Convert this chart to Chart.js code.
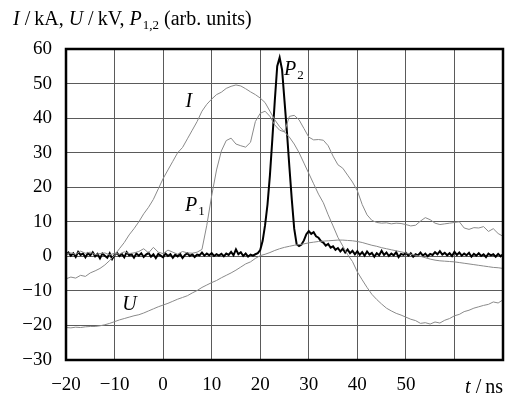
<!DOCTYPE html>
<html>
<head>
<meta charset="utf-8">
<script src="https://cdn.jsdelivr.net/npm/chart.js@4"></script>
<style>
  html, body { margin: 0; padding: 0; background: #fff; }
  #wrap { width: 517px; height: 401px; }
</style>
</head>
<body>
<div id="wrap"><canvas id="myChart" width="517" height="401"></canvas></div>
<script>
'use strict';

// time axis: thin traces sampled every 1 ns, P2 every 0.5 ns, all starting at -20 ns
var tStart = -20;
var stepThin = 1;
var stepP2 = 0.5;

var xTicks = [-20, -10, 0, 10, 20, 30, 40, 50];
var yTicks = [-30, -20, -10, 0, 10, 20, 30, 40, 50, 60];

// I / kA, -20..70 ns
var currentI = [
  -6.5, -6.0, -6.3, -5.5, -5.8, -4.8, -4.2, -3.5, -2.5, -1.2,
   0.3,  2.2,  4.0,  6.2,  8.0, 10.0, 12.3, 14.2, 16.5, 19.5,
  22.5, 25.0, 27.5, 30.0, 31.5, 34.0, 36.5, 39.0, 42.0, 44.0,
  45.5, 46.8, 47.5, 48.6, 49.2, 49.6, 49.3, 48.5, 47.6, 46.8,
  45.8, 44.5, 42.0, 39.5, 37.5, 36.0, 34.5, 32.5, 30.0, 27.0,
  24.0, 21.0, 18.0, 15.5, 12.0,  8.8,  5.5,  3.0,  0.5, -1.5,
  -4.5, -6.8, -9.0, -11.0, -12.5, -13.8, -15.0, -15.8, -16.5, -17.0,
  -17.6, -18.2, -18.6, -19.4, -19.2, -19.6, -19.0, -19.3, -18.5, -18.0,
  -17.2, -16.8, -16.0, -15.6, -15.0, -14.6, -14.2, -13.9, -13.2, -13.5,
  -12.6
];

// U / kV, -20..70 ns
var voltageU = [
  -20.6, -20.7, -20.5, -20.6, -20.4, -20.3, -20.3, -20.1, -19.8, -19.4,
  -18.9, -18.4, -18.0, -17.6, -17.2, -16.9, -16.4, -15.8, -15.2, -14.6,
  -14.1, -13.6, -13.0, -12.4, -11.9, -11.4, -10.6, -9.9, -9.0, -8.3,
  -7.6, -7.0, -6.2, -5.5, -4.8, -4.0, -3.1, -2.2, -1.6, -0.6,
   0.2,  0.6,  1.1,  1.7,  2.2,  2.6,  2.9,  3.2,  3.4,  3.6,
   3.9,  4.1,  4.3,  4.4,  4.5,  4.6,  4.7,  4.7,  4.6,  4.5,
   4.3,  4.0,  3.6,  3.2,  2.9,  2.5,  2.2,  1.9,  1.6,  1.3,
   1.0,  0.6,  0.3,  0.0, -0.4, -0.8, -1.1, -1.3, -1.4, -1.5,
  -1.6, -1.8, -2.0, -2.2, -2.4, -2.6, -2.8, -3.0, -3.2, -3.3,
  -3.5
];

// P1 (arb. units), -20..70 ns
var powerP1 = [
   0.8,  1.0,  0.6,  1.5,  0.9,  1.2,  0.5,  0.8,  1.0,  0.4,
   0.9,  0.6,  1.3,  0.8,  1.0,  1.4,  2.2,  1.0,  2.6,  1.2,
   0.8,  1.8,  1.2,  0.6,  1.4,  1.0,  0.9,  1.2,  2.0,  9.0,
  17.5, 25.0, 30.5, 33.5, 34.2, 32.5, 32.0, 31.6, 33.0, 39.0,
  41.4, 42.0, 40.5, 38.0, 36.5, 36.0, 40.5, 40.8, 39.5, 37.0,
  34.5, 33.7, 33.8, 33.6, 32.0, 29.0, 26.5, 25.5, 23.5, 21.5,
  19.0, 15.0, 12.0, 10.4,  9.8,  9.6,  9.7,  9.4,  9.6,  9.5,
   9.2,  8.8,  9.0, 10.2, 11.2, 10.6,  9.6,  9.2,  9.4,  9.6,
   9.8, 10.0,  8.2,  7.8,  8.3,  8.2,  8.6,  7.2,  8.0,  6.6,
   5.8
];

// P2 (arb. units), -20..70 ns in 0.5 ns steps
var powerP2 = [
   0.5,  1.1,  0.2,  0.9, -0.2,  1.3,  0.4,  0.8, -0.3,  0.9,
   0.3,  1.2,  0.0,  0.7, -0.6,  0.8,  0.2, -0.4,  0.9, -0.8,
   0.4,  1.0,  0.1,  0.7, -0.3,  1.2,  0.3,  0.6, -0.4,  0.8,
   0.2,  0.9, -0.2,  0.5,  1.0, -0.1,  0.6, -0.5,  0.7,  0.2,
  -0.3,  0.8,  0.1,  0.6, -0.4,  0.5,  0.0,  0.7, -0.5,  0.4,
   0.9,  0.1,  0.6, -0.2,  0.5,  0.3,  1.1,  0.2,  0.8,  0.3,
   0.9,  0.1,  0.6,  0.2,  0.7,  0.0,  0.8,  0.4,  1.3,  0.3,
   2.0,  0.6,  1.2,  0.1,  0.8, -0.1,  0.5,  0.2,  0.6,  0.9,
   1.8,  4.5,  9.0, 15.0, 23.5, 34.0, 45.0, 55.0, 57.5, 54.0,
  45.0, 36.0, 26.0, 16.5,  8.0,  3.5,  3.0,  3.4,  4.6,  6.4,
   7.3,  6.5,  7.0,  5.8,  5.4,  4.4,  4.0,  3.1,  3.6,  2.5,
   2.9,  1.9,  2.4,  1.4,  2.2,  1.1,  2.0,  0.9,  1.6,  0.6,
   1.5,  0.4,  1.2,  0.2,  1.4,  0.5,  1.0, -0.1,  0.9,  0.3,
   1.6,  0.4,  1.1,  0.1,  0.8,  0.3,  1.2, -0.2,  0.7,  0.4,
   1.0,  0.2,  0.9, -0.1,  0.6,  0.3,  1.1,  0.2,  0.8,  0.0,
   0.7,  0.4,  1.2,  0.6,  1.5,  0.5,  1.0,  0.3,  0.9,  0.1,
   1.3,  0.4,  1.1,  0.2,  0.8,  0.3,  1.0, -0.1,  0.7,  0.2,
   0.9,  0.1,  0.6, -0.2,  0.8,  0.3,  0.6, -0.1,  0.7,  0.0,
   0.6
];

// text labels on the plot, anchored in data coordinates (left edge, baseline)
var curveLabels = [
  { t: 4.6,  v: 43.3,  runs: [['I', 'i']] },
  { t: 4.5,  v: 13.2,  runs: [['P', 'i'], ['1', 's']] },
  { t: 24.9, v: 52.5,  runs: [['P', 'i'], ['2', 's']] },
  { t: -8.4, v: -15.5, runs: [['U', 'i']] }
];
var titleRuns = [['I', 'i'], ['\u2009/\u2009kA, ', 'n'], ['U', 'i'], ['\u2009/\u2009kV, ', 'n'],
                 ['P', 'i'], ['1,2', 's'], [' (arb. units)', 'n']];
var axisNameRuns = [['t', 'i'], ['\u2009/\u2009ns', 'n']];

var serif = '"Liberation Serif", "Times New Roman", serif';

function toPoints(values, step) {
  return values.map(function (v, i) {
    return { x: tStart + i * step, y: v };
  });
}

function setRunFont(ctx, kind) {
  if (kind === 'i') ctx.font = 'italic 20px ' + serif;
  else if (kind === 's') ctx.font = '13px ' + serif;
  else ctx.font = '20px ' + serif;
}

function runsWidth(ctx, runs) {
  var w = 0;
  runs.forEach(function (r) {
    setRunFont(ctx, r[1]);
    w += ctx.measureText(r[0]).width + (r[1] === 'i' ? 1 : 0);
  });
  return w;
}

function drawRuns(ctx, runs, x, y) {
  ctx.textAlign = 'left';
  ctx.textBaseline = 'alphabetic';
  runs.forEach(function (r) {
    setRunFont(ctx, r[1]);
    ctx.fillText(r[0], x, r[1] === 's' ? y + 4 : y);
    x += ctx.measureText(r[0]).width + (r[1] === 'i' ? 1 : 0);
  });
}

function minusSign(v) {
  return String(v).replace('-', '\u2212');
}

var decorations = {
  id: 'decorations',
  afterDatasetsDraw: function (chart) {
    var ctx = chart.ctx;
    var a = chart.chartArea;
    var xs = chart.scales.x;
    var ys = chart.scales.y;
    ctx.save();
    // heavy frame around the plot
    ctx.strokeStyle = '#000';
    ctx.lineWidth = 2.5;
    ctx.strokeRect(a.left, a.top, a.right - a.left, a.bottom - a.top);
    ctx.fillStyle = '#000';
    curveLabels.forEach(function (l) {
      drawRuns(ctx, l.runs, xs.getPixelForValue(l.t), ys.getPixelForValue(l.v));
    });
    drawRuns(ctx, titleRuns, 13, 25);
    drawRuns(ctx, axisNameRuns, a.right - runsWidth(ctx, axisNameRuns), 393);
    ctx.restore();
  }
};

var thin = {
  borderColor: '#8a8a8a',
  borderWidth: 1,
  pointRadius: 0,
  tension: 0,
  fill: false
};

new Chart(document.getElementById('myChart'), {
  type: 'line',
  data: {
    datasets: [
      Object.assign({ label: 'I', data: toPoints(currentI, stepThin) }, thin),
      Object.assign({ label: 'U', data: toPoints(voltageU, stepThin) }, thin),
      Object.assign({ label: 'P1', data: toPoints(powerP1, stepThin) }, thin),
      { label: 'P2', data: toPoints(powerP2, stepP2), borderColor: '#000', borderWidth: 2,
        pointRadius: 0, tension: 0, fill: false }
    ]
  },
  options: {
    responsive: false,
    animation: false,
    layout: { padding: { top: 49, right: 7, left: 0, bottom: 0 } },
    plugins: { legend: { display: false }, tooltip: { enabled: false } },
    scales: {
      x: {
        type: 'linear',
        min: -20,
        max: 70,
        afterFit: function (scale) { scale.height = 41; },
        afterBuildTicks: function (scale) {
          scale.ticks = xTicks.concat([60, 70]).map(function (v) { return { value: v }; });
        },
        ticks: {
          color: '#000',
          padding: 14,
          font: { family: serif, size: 19 },
          callback: function (v) { return xTicks.indexOf(v) >= 0 ? minusSign(v) : ''; }
        },
        grid: { color: '#5a5a5a', lineWidth: 1, drawTicks: false },
        border: { display: false }
      },
      y: {
        min: -30,
        max: 60,
        afterFit: function (scale) { scale.width = 66; },
        afterBuildTicks: function (scale) {
          scale.ticks = yTicks.map(function (v) { return { value: v }; });
        },
        ticks: {
          color: '#000',
          padding: 14,
          font: { family: serif, size: 19 },
          callback: function (v) { return minusSign(v); }
        },
        grid: { color: '#5a5a5a', lineWidth: 1, drawTicks: false },
        border: { display: false }
      }
    }
  },
  plugins: [decorations]
});
</script>
</body>
</html>
